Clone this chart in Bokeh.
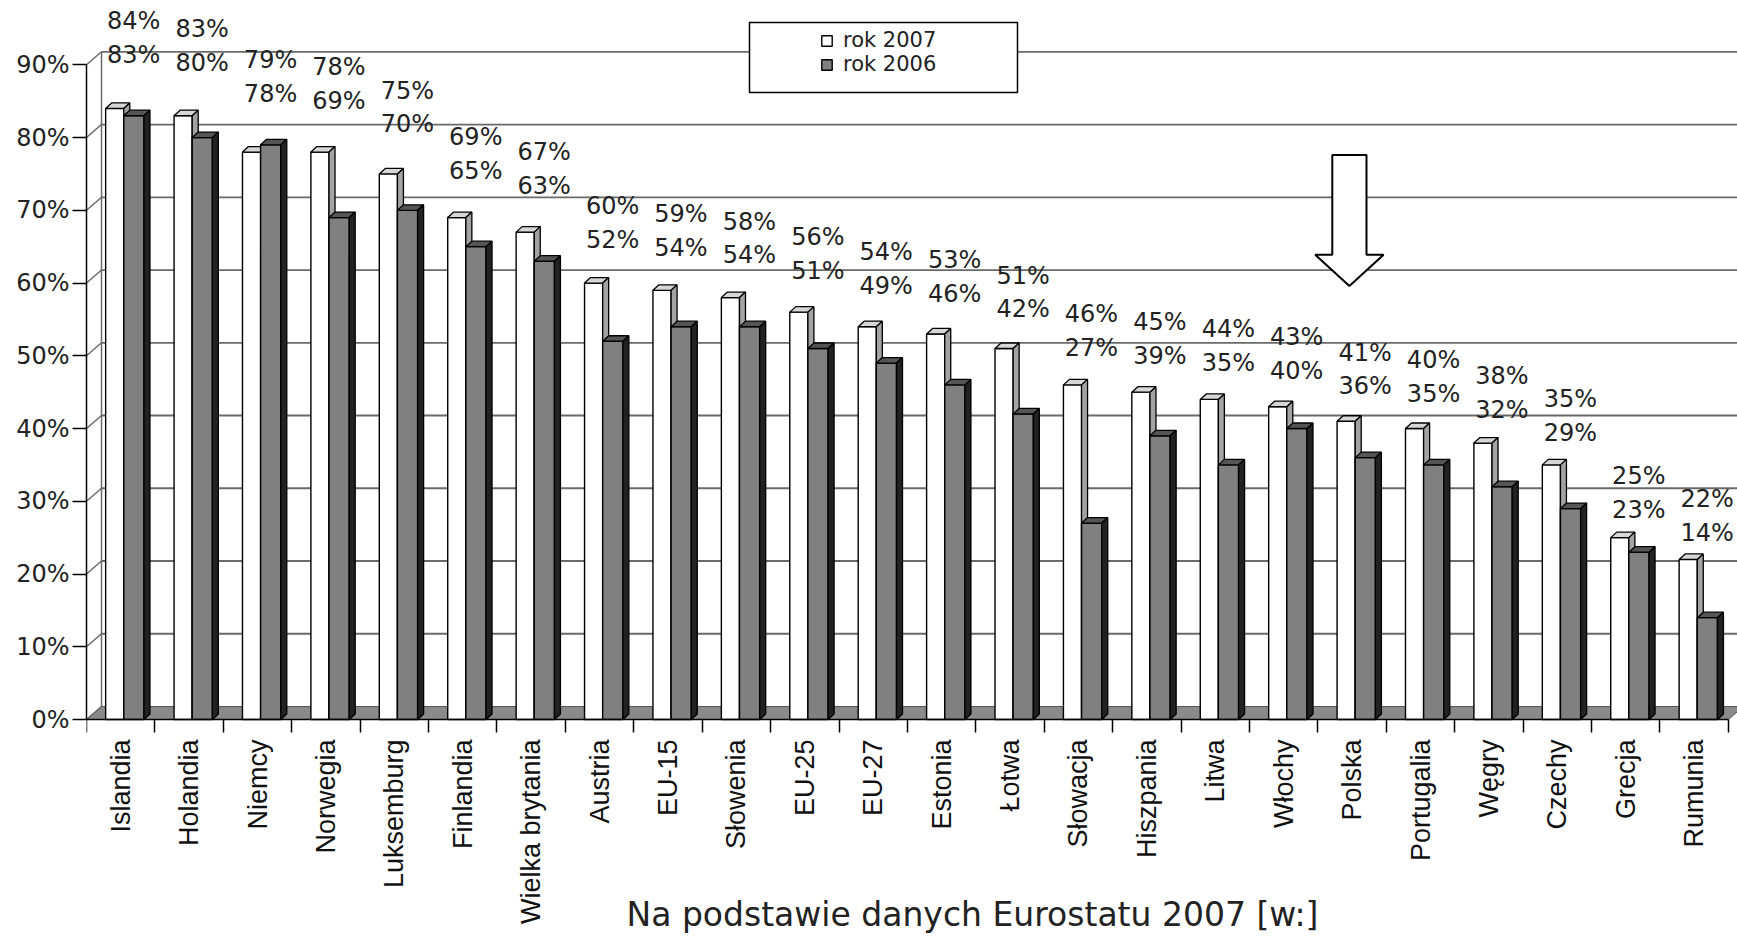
import numpy as np
from bokeh.plotting import figure
from bokeh.models import (Range1d, FixedTicker, PrintfTickFormatter, Legend, LegendItem,
                          BoxAnnotation, PolyAnnotation, Label, ColumnDataSource)
from bokeh.core.properties import value
from bokeh.embed import file_html
from bokeh.resources import INLINE

# ---------------- data ----------------
categories = ["Islandia", "Holandia", "Niemcy", "Norwegia", "Luksemburg", "Finlandia",
              "Wielka brytania", "Austria", "EU-15", "Słowenia", "EU-25", "EU-27",
              "Estonia", "Łotwa", "Słowacja", "Hiszpania", "Litwa", "Włochy", "Polska",
              "Portugalia", "Węgry", "Czechy", "Grecja", "Rumunia"]
rok_2007 = [84, 83, 78, 78, 75, 69, 67, 60, 59, 58, 56, 54,
            53, 51, 46, 45, 44, 43, 41, 40, 38, 35, 25, 22]
rok_2006 = [83, 80, 79, 69, 70, 65, 63, 52, 54, 54, 51, 49,
            46, 42, 27, 39, 35, 40, 36, 35, 32, 29, 23, 14]
y_ticks = [0, 10, 20, 30, 40, 50, 60, 70, 80, 90]
series_names = ["rok 2007", "rok 2006"]
highlight = "Polska"
caption = "Na podstawie danych Eurostatu 2007 [w:]"

# ---------------- layout / style ----------------
W, H = 1737, 941
BL = 86                           # frame left (front y axis)
n = len(categories)
px_x = (1728.3 - 86.4) / n        # pixels per category
y0_px, y90_px = 719.0, 64.3       # screen rows of 0% and 90%
px_y = (y0_px - y90_px) / 90.0    # pixels per percent
x_end = (W - BL) / px_x
y_lo_lim = -(H - y0_px) / px_y
y_hi_lim = y0_px / px_y

dxb, dyb = 6.0 / px_x, 5.5 / px_y     # bar depth
dxw, dyw = 15.0 / px_x, 13.0 / px_y   # wall depth

NUM_FONT = "DejaVu Sans"
CAT_FONT = "Liberation Sans"
TXT = "#222222"

p = figure(width=W, height=H, x_range=Range1d(0, x_end), y_range=Range1d(y_lo_lim, y_hi_lim),
           output_backend="svg", toolbar_location=None,
           min_border_left=BL, min_border_right=0, min_border_top=0, min_border_bottom=0)
p.outline_line_color = None
p.xgrid.visible = False
p.ygrid.visible = False
p.background_fill_color = "white"
p.border_fill_color = "white"

# ---------------- walls / floor ----------------
grid_color = "#6a6a6a"
p.patch(x=[0, n, n + dxw, dxw], y=[0, 0, dyw, dyw],
        fill_color="#8a8a8a", line_color="#555555", line_width=1)
gv = [v for v in y_ticks if v > 0]
p.segment(x0=[dxw] * len(gv), y0=[v + dyw for v in gv],
          x1=[x_end + 1] * len(gv), y1=[v + dyw for v in gv],
          line_color=grid_color, line_width=1.8)
p.segment(x0=[0] * len(y_ticks), y0=y_ticks,
          x1=[dxw] * len(y_ticks), y1=[v + dyw for v in y_ticks],
          line_color=grid_color, line_width=1.5)
p.segment(x0=[dxw], y0=[dyw], x1=[dxw], y1=[max(y_ticks) + dyw],
          line_color=grid_color, line_width=1.5)

# ---------------- 3D bars ----------------
idx = np.arange(n)

def draw_bars(vals, l_off, r_off, front, top, side):
    vals = np.asarray(vals, dtype=float)
    left = idx + l_off
    right = idx + r_off
    r = p.quad(left=left, right=right, bottom=0, top=vals,
               fill_color=front, line_color="black", line_width=1.4)
    p.patches(xs=[[l, rr, rr + dxb, l + dxb] for l, rr in zip(left, right)],
              ys=[[v, v, v + dyb, v + dyb] for v in vals],
              fill_color=top, line_color="black", line_width=1.3)
    p.patches(xs=[[rr, rr + dxb, rr + dxb, rr] for rr in right],
              ys=[[0, dyb, v + dyb, v] for v in vals],
              fill_color=side, line_color="black", line_width=1.3)
    return r

r07 = draw_bars(rok_2007, 0.28, 0.545, "#ffffff", "#d6d6d6", "#a3a3a3")
r06 = draw_bars(rok_2006, 0.545, 0.84, "#808080", "#555555", "#222222")

# ---------------- value labels ----------------
hi = np.maximum(rok_2007, rok_2006)
lo = np.minimum(rok_2007, rok_2006)
y_hi = 1.0595 * hi + 7.0
y_lo = y_hi - 4.65
lx = np.minimum(idx + 0.69, x_end - 0.4)
lab_src = ColumnDataSource(dict(
    x=np.concatenate([lx, lx]),
    y=np.concatenate([y_hi, y_lo]),
    t=[f"{v}%" for v in hi] + [f"{v}%" for v in lo]))
p.text(x="x", y="y", text="t", source=lab_src, text_align="center",
       text_baseline="middle", text_font=value(NUM_FONT), text_font_size="24px",
       text_color=TXT)

# ---------------- highlight arrow ----------------
hx = categories.index(highlight) + 0.46
sh, hh = 0.25, 0.5
a_top, a_base, a_tip = 77.6, 63.9, 59.6
p.add_layout(PolyAnnotation(
    xs=[hx - sh, hx + sh, hx + sh, hx + hh, hx, hx - hh, hx - sh],
    ys=[a_top, a_top, a_base, a_base, a_tip, a_base, a_base],
    fill_color="white", fill_alpha=1, line_color="black", line_alpha=1, line_width=2))

# ---------------- axes ----------------
yax = p.yaxis[0]
yax.ticker = FixedTicker(ticks=y_ticks)
yax.formatter = PrintfTickFormatter(format="%d%%")
yax.bounds = (0, max(y_ticks))
yax.major_tick_out = 14
yax.major_tick_in = 0
yax.minor_tick_line_color = None
yax.major_tick_line_width = 1.5
yax.axis_line_width = 1.5
yax.major_label_text_font = NUM_FONT
yax.major_label_text_font_size = "24px"
yax.major_label_text_color = TXT
yax.major_label_standoff = 3

xax = p.xaxis[0]
xax.fixed_location = 0
xax.bounds = (0, n)
xax.ticker = FixedTicker(ticks=[i + 0.5 for i in range(n)],
                         minor_ticks=list(range(n + 1)))
xax.major_label_overrides = {i + 0.5: c for i, c in enumerate(categories)}
xax.major_label_orientation = np.pi / 2
xax.major_tick_line_color = None
xax.major_tick_out = 0
xax.major_tick_in = 0
xax.minor_tick_out = 13
xax.minor_tick_in = 0
xax.minor_tick_line_color = "black"
xax.minor_tick_line_width = 1.5
xax.axis_line_width = 1.5
xax.major_label_standoff = 7
xax.major_label_text_font = CAT_FONT
xax.major_label_text_font_size = "27px"
xax.major_label_text_color = "#111111"

# ---------------- legend ----------------
p.add_layout(BoxAnnotation(left=(749 - BL) / px_x, right=(1017 - BL) / px_x,
                           top=(y0_px - 22) / px_y, bottom=(y0_px - 92) / px_y,
                           fill_color="white", fill_alpha=1,
                           line_color="black", line_alpha=1, line_width=1.5))
legend = Legend(items=[LegendItem(label=series_names[0], renderers=[r07]),
                       LegendItem(label=series_names[1], renderers=[r06])],
                location=(820 - BL, H - 76), orientation="vertical",
                padding=0, margin=0, spacing=0,
                glyph_width=13, glyph_height=13, label_standoff=10,
                label_text_font=NUM_FONT, label_text_font_size="21px",
                label_text_color=TXT, border_line_color=None, background_fill_alpha=0)
p.add_layout(legend)

# ---------------- caption ----------------
p.add_layout(Label(x=(626 - BL) / px_x, y=-(914 - y0_px) / px_y, text=caption,
                   text_font=NUM_FONT, text_font_size="33px", text_color=TXT,
                   text_baseline="alphabetic", text_align="left"))

open("out.html", "w").write(file_html(p, INLINE))
